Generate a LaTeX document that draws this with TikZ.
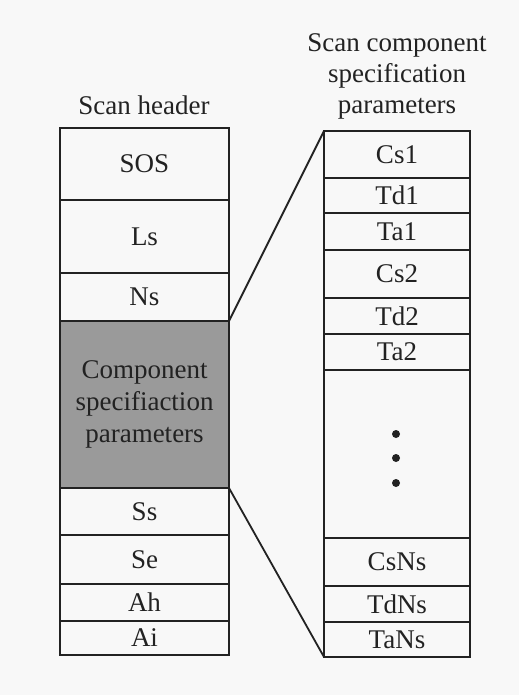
\documentclass[tikz,border=0pt]{standalone}
\usepackage{fontspec}
\setmainfont{Liberation Serif}
\definecolor{inkc}{HTML}{222222}
\definecolor{shade}{HTML}{9A9A9A}
\definecolor{bgc}{HTML}{F8F8F8}
\begin{document}
\begin{tikzpicture}[x=1pt,y=-1pt,
  every node/.style={text=inkc, font=\fontsize{27}{31}\selectfont},
  lcell/.style={draw=inkc, line width=1.8pt, minimum width=169pt, inner sep=0pt, outer sep=0pt},
  rcell/.style={draw=inkc, line width=1.8pt, minimum width=146pt, inner sep=0pt, outer sep=0pt},
  link/.style={draw=inkc, line width=1.8pt},
  dotmark/.style={circle, fill=inkc, inner sep=0pt, minimum size=8pt}]
\fill[bgc] (0,0) rectangle (519,695);
\useasboundingbox (0,0) rectangle (519,695);
% titles
\node (lt) at (144,105) {Scan header};
\node[align=center] (rt) at (397,76) {Scan component\\specification\\parameters};
% left column
\node[lcell, minimum height=72pt] (SOS) at (144.5,164) {SOS};
\node[lcell, minimum height=73pt] (Ls) at (144.5,236.5) {Ls};
\node[lcell, minimum height=48pt] (Ns) at (144.5,297) {Ns};
\node[lcell, fill=shade, minimum height=167pt, align=center, font=\fontsize{27}{32}\selectfont] (comp) at (144.5,404.5) {Component\\specifiaction\\parameters};
\node[lcell, minimum height=47pt] (Ss) at (144.5,511.5) {Ss};
\node[lcell, minimum height=49pt] (Se) at (144.5,559.5) {Se};
\node[lcell, minimum height=37pt] (Ah) at (144.5,602.5) {Ah};
\node[lcell, minimum height=34pt] (Ai) at (144.5,638) {Ai};
% right column
\node[rcell, minimum height=47pt] (Cs1) at (397,154.5) {Cs1};
\node[rcell, minimum height=35pt] (Td1) at (397,195.5) {Td1};
\node[rcell, minimum height=37pt] (Ta1) at (397,231.5) {Ta1};
\node[rcell, minimum height=48pt] (Cs2) at (397,274) {Cs2};
\node[rcell, minimum height=36pt] (Td2) at (397,316) {Td2};
\node[rcell, minimum height=36pt] (Ta2) at (397,352) {Ta2};
\node[rcell, minimum height=168pt] (gap) at (397,454) {};
\node[rcell, minimum height=48pt] (CsNs) at (397,562) {CsNs};
\node[rcell, minimum height=36pt] (TdNs) at (397,604) {TdNs};
\node[rcell, minimum height=35pt] (TaNs) at (397,639.5) {TaNs};
% dots
\node[dotmark] (d1) at (396,434) {};
\node[dotmark] (d2) at (396,458) {};
\node[dotmark] (d3) at (396,483) {};
% expansion lines
\draw[link] (comp.north east) -- (Cs1.north west);
\draw[link] (comp.south east) -- (TaNs.south west);
\end{tikzpicture}
\end{document}
